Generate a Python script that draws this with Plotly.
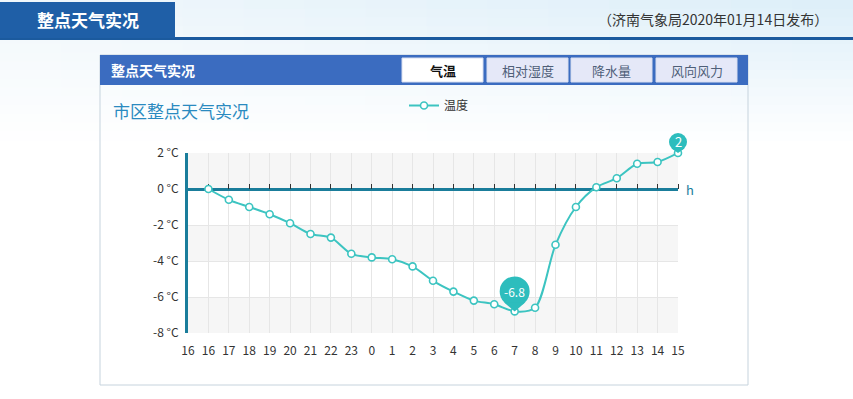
import plotly.graph_objects as go

W, H = 853, 399

hours = ["16", "16", "17", "18", "19", "20", "21", "22", "23", "0", "1", "2", "3",
         "4", "5", "6", "7", "8", "9", "10", "11", "12", "13", "14", "15"]
temps = [None, 0.0, -0.6, -1.0, -1.4, -1.9, -2.5, -2.7, -3.6, -3.8, -3.9, -4.3, -5.1,
         -5.7, -6.2, -6.4, -6.8, -6.6, -3.1, -1.0, 0.1, 0.6, 1.4, 1.5, 2.0]
y_ticks = [-8, -6, -4, -2, 0, 2]
y_labels = [f"{v} °C" for v in y_ticks]
tabs = ["气温", "相对湿度", "降水量", "风向风力"]

FONT = "Noto Sans CJK SC, Open Sans, sans-serif"
LINE = "#3cc4c1"
AXIS = "#1a7d9b"
PIN = "#2dbdbd"

# plot area in pixels
PX0, PX1 = 188, 678
PY_TOP, PY_BOT = 153, 333
X_RANGE = [0, len(hours) - 1]
Y_RANGE = [y_ticks[0], y_ticks[-1]]


def fx(px):
    return px / W


def fy(py):
    return 1 - py / H


def data_to_paper(xv, yv):
    xp = fx(PX0) + (xv - X_RANGE[0]) / (X_RANGE[1] - X_RANGE[0]) * (fx(PX1) - fx(PX0))
    yp = fy(PY_BOT) + (yv - Y_RANGE[0]) / (Y_RANGE[1] - Y_RANGE[0]) * (fy(PY_TOP) - fy(PY_BOT))
    return xp, yp


x_idx = list(range(len(hours)))
fig = go.Figure()

fig.add_trace(go.Scatter(
    x=x_idx, y=temps, mode="lines+markers", name="温度",
    line=dict(color=LINE, width=2, shape="spline", smoothing=0.8),
    marker=dict(symbol="circle", size=7, color="white", line=dict(color=LINE, width=1.6)),
    cliponaxis=False, hoverinfo="x+y",
))
# invisible helper trace for the zero-line tick axis
fig.add_trace(go.Scatter(x=x_idx, y=[0] * len(x_idx), xaxis="x2", mode="lines",
                         line=dict(width=0), showlegend=False, hoverinfo="skip",
                         opacity=0))

shapes = []
annotations = []


def text(xp, yp, s, size, color, xanchor="center", bold=False):
    annotations.append(dict(x=fx(xp), y=fy(yp), xref="paper", yref="paper",
                            xanchor=xanchor, yanchor="middle",
                            text=f"<b>{s}</b>" if bold else s, showarrow=False,
                            font=dict(family=FONT, size=size, color=color)))


# background gradient at the top of the page
rows, cols = 16, 14
for r in range(rows):
    for c in range(cols):
        t = r / rows
        s = c / (cols - 1)
        base = (240 - 18 * s, 247 - 8 * s, 251 - 2 * s)
        col = tuple(int(round(b + (255 - b) * t)) for b in base)
        shapes.append(dict(type="rect", xref="paper", yref="paper",
                           x0=fx(c * W / cols), x1=fx((c + 1) * W / cols + 1),
                           y0=fy((r + 1) * 140 / rows + 1), y1=fy(r * 140 / rows),
                           fillcolor=f"rgb{col}", line=dict(width=0), layer="below"))

# top header
shapes.append(dict(type="rect", xref="paper", yref="paper", x0=0, x1=1,
                   y0=fy(40), y1=fy(37), fillcolor="#1b5a9e", line=dict(width=0), layer="below"))
shapes.append(dict(type="rect", xref="paper", yref="paper", x0=fx(0), x1=fx(175),
                   y0=fy(38), y1=fy(2), fillcolor="#1f5fa7", line=dict(width=0), layer="below"))
text(88, 19, "整点天气实况", 17, "white", bold=True)
text(830, 19, "（济南气象局2020年01月14日发布）", 14, "#333333", xanchor="right")

# panel
shapes.append(dict(type="rect", xref="paper", yref="paper", x0=fx(100), x1=fx(748),
                   y0=fy(385), y1=fy(55), fillcolor="rgba(0,0,0,0)",
                   line=dict(color="#c6d3dd", width=1), layer="below"))
shapes.append(dict(type="rect", xref="paper", yref="paper", x0=fx(100), x1=fx(748),
                   y0=fy(85), y1=fy(55), fillcolor="#3b6cc0", line=dict(width=0), layer="below"))
text(109, 70, "整点天气实况", 14, "white", xanchor="left", bold=True)
tab_x = [402, 487, 571, 656]
for i, (label, tx) in enumerate(zip(tabs, tab_x)):
    active = i == 0
    shapes.append(dict(type="rect", xref="paper", yref="paper", x0=fx(tx), x1=fx(tx + 81),
                       y0=fy(82), y1=fy(58), fillcolor="white" if active else "#e5e8f8",
                       line=dict(color="#d8def0", width=1), layer="below"))
    text(tx + 40.5, 70, label, 13, "#111111" if active else "#4f5f78", bold=active)

text(111, 110, "市区整点天气实况", 17, "#2a8ac0", xanchor="left")

# alternating bands
for i in range(len(y_ticks) - 1):
    lo, hi = y_ticks[i], y_ticks[i + 1]
    if (len(y_ticks) - 2 - i) % 2 == 0:
        shapes.append(dict(type="rect", xref="x domain", yref="y", x0=0, x1=1, y0=lo, y1=hi,
                           fillcolor="#f6f6f6", line=dict(width=0), layer="below"))

# "h" unit label
annotations.append(dict(x=fx(684), y=0, xref="paper", yref="y", xanchor="left",
                        yanchor="middle", text="h", showarrow=False, yshift=-1,
                        font=dict(family=FONT, size=13, color=AXIS)))

# pins for min and max
valid = [(i, v) for i, v in enumerate(temps) if v is not None]
imin, vmin = min(valid, key=lambda p: p[1])
imax, vmax = max(valid, key=lambda p: p[1])
for (ix, v, r, h, fs) in [(imin, vmin, 15, 20, 12), (imax, vmax, 9, 11, 13)]:
    xp, yp = data_to_paper(ix, v)
    shapes.append(dict(type="circle", xref="paper", yref="paper", xsizemode="pixel",
                       ysizemode="pixel", xanchor=xp, yanchor=yp,
                       x0=-r, x1=r, y0=h - r, y1=h + r,
                       fillcolor=PIN, line=dict(width=0), layer="above"))
    k = 0.72
    shapes.append(dict(type="path", xref="paper", yref="paper", xsizemode="pixel",
                       ysizemode="pixel", xanchor=xp, yanchor=yp,
                       path=f"M {-r*k:.2f},{h - r*k:.2f} L 0,0 L {r*k:.2f},{h - r*k:.2f} Z",
                       fillcolor=PIN, line=dict(width=0), layer="above"))
    annotations.append(dict(x=xp, y=yp, xref="paper", yref="paper", yshift=h,
                            xanchor="center", yanchor="middle", text=f"{v:g}",
                            showarrow=False, font=dict(family=FONT, size=fs, color="white")))

fig.update_layout(
    width=W, height=H, margin=dict(l=0, r=0, t=0, b=0, autoexpand=False),
    paper_bgcolor="white", plot_bgcolor="white",
    font=dict(family=FONT, size=12, color="#333333"),
    shapes=shapes, annotations=annotations,
    showlegend=True,
    legend=dict(orientation="h", x=fx(404), y=fy(91), xanchor="left", yanchor="top",
                bgcolor="rgba(0,0,0,0)", font=dict(family=FONT, size=12, color="#333333"),
                itemwidth=30),
    xaxis=dict(domain=[fx(PX0), fx(PX1)], range=X_RANGE, tickmode="array",
               tickvals=x_idx, ticktext=hours, showgrid=True, gridcolor="#e6e6e6",
               zeroline=False, showline=False, ticks="outside", ticklen=7,
               tickcolor="rgba(0,0,0,0)", tickfont=dict(size=12, color="#333333"),
               fixedrange=True, automargin=False),
    xaxis2=dict(domain=[fx(PX0), fx(PX1)], range=X_RANGE, overlaying="x",
                anchor="free", position=fy(189), side="top", tickmode="array",
                tickvals=x_idx[1:], ticks="outside", ticklen=5, tickwidth=1,
                tickcolor="#333333", showticklabels=False, showgrid=False,
                showline=False, zeroline=False, automargin=False, layer="below traces"),
    yaxis=dict(domain=[fy(PY_BOT), fy(PY_TOP)], range=Y_RANGE, tickmode="array",
               tickvals=y_ticks, ticktext=y_labels, showgrid=True, gridcolor="#e6e6e6",
               zeroline=True, zerolinecolor=AXIS, zerolinewidth=3,
               showline=True, linecolor=AXIS, linewidth=3,
               ticks="outside", ticklen=4, tickcolor="rgba(0,0,0,0)",
               tickfont=dict(size=12, color="#333333"), fixedrange=True, automargin=False),
)

fig.write_html("out.html")
